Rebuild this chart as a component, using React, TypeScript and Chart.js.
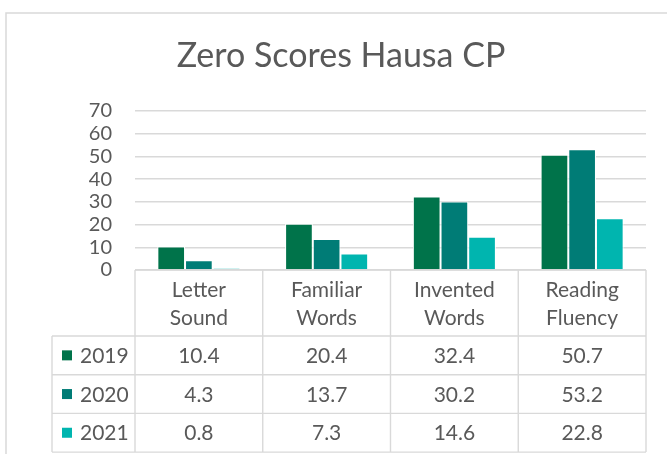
import React, { useEffect, useRef } from "react";
import { Chart, registerables } from "chart.js";

Chart.register(...registerables);

const TITLE = "Zero Scores Hausa CP";
const categories: string[][] = [
  ["Letter", "Sound"],
  ["Familiar", "Words"],
  ["Invented", "Words"],
  ["Reading", "Fluency"],
];
const seriesNames = ["2019", "2020", "2021"];
const values2019 = [10.4, 20.4, 32.4, 50.7];
const values2020 = [4.3, 13.7, 30.2, 53.2];
const values2021 = [0.8, 7.3, 14.6, 22.8];
const seriesColors = ["#00734A", "#007C76", "#00B5AF"];

const FONT = "Lato, 'Open Sans', sans-serif";
const TEXT = "#595959";
const LINE = "#D9D9D9";

export default function App() {
  const ref = useRef<HTMLCanvasElement | null>(null);

  useEffect(() => {
    const canvas = ref.current;
    if (!canvas) return;
    const allValues = [values2019, values2020, values2021];

    const tablePlugin = {
      id: "tablePlugin",
      afterDraw(chart: any) {
        const ctx = chart.ctx as CanvasRenderingContext2D;
        const x = chart.scales.x;
        const area = chart.chartArea;
        const n = categories.length;
        const cw = (x.right - x.left) / n;
        const top = area.bottom;
        const headerBottom = top + 66;
        const rowH = 38.7;
        const rows = [headerBottom, headerBottom + rowH, headerBottom + 2 * rowH, headerBottom + 3 * rowH];
        const tableLeft = 52;
        ctx.save();
        // frame
        ctx.strokeStyle = LINE;
        ctx.lineWidth = 1.5;
        ctx.beginPath();
        ctx.moveTo(6, 454);
        ctx.lineTo(6, 13);
        ctx.lineTo(667, 13);
        ctx.stroke();
        // table lines
        ctx.lineWidth = 1.4;
        ctx.beginPath();
        ctx.moveTo(x.left, top);
        ctx.lineTo(x.right, top);
        for (const r of rows) {
          ctx.moveTo(tableLeft, r);
          ctx.lineTo(x.right, r);
        }
        for (let i = 0; i <= n; i++) {
          const xx = x.left + i * cw;
          ctx.moveTo(xx, top);
          ctx.lineTo(xx, rows[3]);
        }
        ctx.moveTo(tableLeft, rows[0]);
        ctx.lineTo(tableLeft, rows[3]);
        ctx.stroke();
        // header text
        ctx.fillStyle = TEXT;
        ctx.font = `21px ${FONT}`;
        ctx.textAlign = "center";
        ctx.textBaseline = "alphabetic";
        categories.forEach((lines, i) => {
          const cx = x.getPixelForValue(i);
          ctx.fillText(lines[0], cx, top + 27);
          ctx.fillText(lines[1], cx, top + 55);
        });
        // rows
        allValues.forEach((vals, s) => {
          const cy = (rows[s] + rows[s + 1]) / 2;
          ctx.fillStyle = seriesColors[s];
          ctx.fillRect(62, cy - 5, 10, 10);
          ctx.fillStyle = TEXT;
          ctx.textAlign = "left";
          ctx.fillText(seriesNames[s], 80, cy + 7.5);
          ctx.textAlign = "center";
          vals.forEach((v, i) => {
            ctx.fillText(v.toFixed(1), x.getPixelForValue(i), cy + 7.5);
          });
        });
        // title
        ctx.font = `34px ${FONT}`;
        ctx.textAlign = "center";
        ctx.textBaseline = "alphabetic";
        ctx.fillText(TITLE, 341, 67);
        ctx.restore();
      },
    };

    const chart = new Chart(canvas, {
      type: "bar",
      data: {
        labels: categories.map((c) => c.join(" ")),
        datasets: allValues.map((vals, s) => ({
          label: seriesNames[s],
          data: vals,
          backgroundColor: seriesColors[s],
          borderColor: "#FFFFFF",
          borderWidth: { left: 1, right: 1, top: 1, bottom: 0 },
          borderSkipped: "bottom",
          categoryPercentage: 0.65,
          barPercentage: 1,
        })),
      },
      options: {
        responsive: false,
        animation: false,
        maintainAspectRatio: false,
        layout: { padding: { left: 0, right: 21, top: 111, bottom: 184 } },
        plugins: {
          legend: { display: false },
          title: { display: false },
          tooltip: { enabled: false },
        },
        scales: {
          x: { display: false },
          y: {
            min: 0,
            max: 70,
            afterFit(scale: any) {
              scale.width = 135;
            },
            ticks: {
              stepSize: 10,
              autoSkip: false,
              padding: 23,
              color: TEXT,
              font: { family: FONT, size: 20 },
            },
            grid: { color: LINE, lineWidth: 1.4, drawTicks: false },
            border: { display: false },
          },
        },
      },
      plugins: [tablePlugin],
    });
    return () => chart.destroy();
  }, []);

  return (
    <div style={{ position: "fixed", left: 0, top: 0, width: 667, height: 454, background: "#fff" }}>
      <canvas ref={ref} width={667} height={454} style={{ display: "block" }} />
    </div>
  );
}
